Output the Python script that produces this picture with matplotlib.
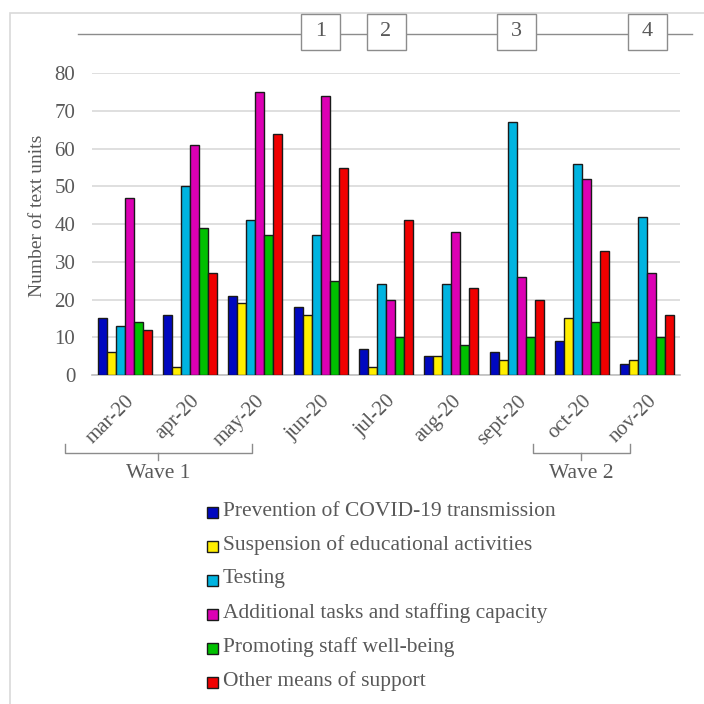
import matplotlib
matplotlib.use("Agg")
import matplotlib.pyplot as plt
import numpy as np
from matplotlib.patches import Rectangle
from matplotlib.lines import Line2D
import matplotlib.transforms as mtransforms

months = ["mar-20", "apr-20", "may-20", "jun-20", "jul-20", "aug-20", "sept-20", "oct-20", "nov-20"]
series_names = [
    "Prevention of COVID-19 transmission",
    "Suspension of educational activities",
    "Testing",
    "Additional tasks and staffing capacity",
    "Promoting staff well-being",
    "Other means of support",
]
prevention = [15, 16, 21, 18, 7, 5, 6, 9, 3]
suspension = [6, 2, 19, 16, 2, 5, 4, 15, 4]
testing = [13, 50, 41, 37, 24, 24, 67, 56, 42]
additional = [47, 61, 75, 74, 20, 38, 26, 52, 27]
wellbeing = [14, 39, 37, 25, 10, 8, 10, 14, 10]
other = [12, 27, 64, 55, 41, 23, 20, 33, 16]
colors = ["#0008C0", "#FFEE00", "#00B4E0", "#DC00B4", "#00C000", "#F00000"]
yticks = [0, 10, 20, 30, 40, 50, 60, 70, 80]
timeline_labels = ["1", "2", "3", "4"]
timeline_pos = [3, 4, 6, 8]  # category index
waves = [("Wave 1", 0, 2), ("Wave 2", 7, 8)]

series = [prevention, suspension, testing, additional, wellbeing, other]

plt.rcParams["font.family"] = ["Liberation Serif", "DejaVu Serif"]
TXT = "#595959"
W = H = 704
fig = plt.figure(figsize=(7.04, 7.04), dpi=100)

def fx(px):
    return px / W

def fy(py):
    return 1 - py / H

# outer frame
fig.add_artist(Rectangle((fx(10), fy(730)), fx(720), 730 / H - 13 / H, transform=fig.transFigure,
                         fill=False, edgecolor="#D9D9D9", linewidth=1.2))

ax_l, ax_r, ax_t, ax_b = 92, 680, 73.3, 375
ax = fig.add_axes([fx(ax_l), fy(ax_b), fx(ax_r - ax_l), (ax_b - ax_t) / H])
n = len(series)
bw = 0.138
x = np.arange(len(months))
for i, (vals, c) in enumerate(zip(series, colors)):
    ax.bar(x + (i - (n - 1) / 2) * bw, vals, width=bw, color=c, edgecolor="#1a1a1a",
           linewidth=1.0, zorder=3)
ax.set_xlim(-0.5, len(months) - 0.5)
ax.set_ylim(0, 80)
ax.set_yticks(yticks)
ax.yaxis.grid(True, color="#D9D9D9", linewidth=1.2, zorder=0)
for s in ["top", "right", "left"]:
    ax.spines[s].set_visible(False)
ax.spines["bottom"].set_color("#BFBFBF")
ax.spines["bottom"].set_linewidth(1.2)
ax.tick_params(axis="both", length=0, labelsize=15, labelcolor=TXT)
ax.tick_params(axis="y", pad=12)
ax.set_xticks(x)
ax.set_xticklabels(months, rotation=45, ha="right", rotation_mode="anchor")
ax.tick_params(axis="x", pad=12)
fig.text(fx(38), fy(216), "Number of text units", rotation=90, ha="center", va="center",
         fontsize=14, color=TXT)

# timeline
fig.add_artist(Line2D([fx(78), fx(692)], [fy(34), fy(34)], transform=fig.transFigure,
                      color="#8C8C8C", linewidth=1.0))
for lab, p in zip(timeline_labels, timeline_pos):
    cx = fig.transFigure.inverted().transform(ax.transData.transform((p, 0)))[0]
    fig.add_artist(Rectangle((cx - fx(19.5), fy(50)), fx(39), 36 / H, transform=fig.transFigure,
                             facecolor="white", edgecolor="#8C8C8C", linewidth=1.0, zorder=5))
    fig.text(cx, fy(32), lab, ha="center", va="center", fontsize=16, color=TXT, zorder=6)

# wave brackets
trans = mtransforms.blended_transform_factory(ax.transData, fig.transFigure)
for name, a, b in waves:
    x0 = a - 0.5 - 0.42 if a == 0 else a - 0.75
    x1 = b - 0.05 if a == 0 else b - 0.27
    xs = [x0, x0, x1, x1]
    ys = [fy(444), fy(453), fy(453), fy(444)]
    ax.add_artist(Line2D(xs, ys, transform=trans, color="#8C8C8C", linewidth=1.0, clip_on=False))
    xm = (x0 + x1) / 2
    ax.add_artist(Line2D([xm, xm], [fy(453), fy(460)], transform=trans, color="#8C8C8C",
                         linewidth=1.0, clip_on=False))
    ax.text(xm, fy(474), name, transform=trans, ha="center", va="center", fontsize=15.5, color=TXT)

# legend
for i, (name, c) in enumerate(zip(series_names, colors)):
    yc = 511 + i * 34
    fig.add_artist(Rectangle((fx(207), fy(yc + 6.5)), fx(11), 11 / H, transform=fig.transFigure,
                             facecolor=c, edgecolor="#1a1a1a", linewidth=1.0))
    fig.text(fx(223), fy(yc), name, ha="left", va="center", fontsize=15.5, color=TXT)

fig.savefig("out.png", dpi=100)
